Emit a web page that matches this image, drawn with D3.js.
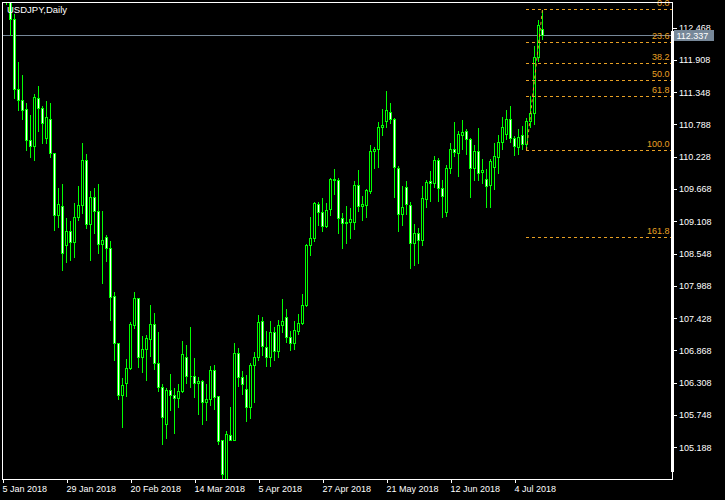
<!DOCTYPE html>
<html>
<head>
<meta charset="utf-8">
<script src="https://cdn.jsdelivr.net/npm/d3@7"></script>
<style>
  html, body { margin: 0; padding: 0; background: #000; }
  svg { display: block; }
  text { font-family: "Liberation Sans", Arial, sans-serif; }
</style>
</head>
<body>
<svg id="chart" width="725" height="500"></svg>
<script>
// ---------- data (USDJPY daily, 5 Jan 2018 .. 13 Jul 2018) ----------
const symbolTitle = "USDJPY,Daily";

const opens = [
  113.00,113.05,113.10,112.61,111.41,111.22,111.05,110.52,110.42,111.24,
  111.07,110.55,110.89,110.29,109.22,109.38,108.70,108.94,108.75,109.19,
  109.39,110.17,109.06,109.53,109.29,108.72,108.84,108.64,107.81,106.99,
  106.09,106.30,106.56,107.31,107.77,106.75,106.90,107.07,107.32,106.65,
  106.23,105.60,106.19,106.09,106.05,106.17,106.75,106.43,106.43,106.31,
  106.34,105.98,106.02,106.53,106.07,105.31,104.55,105.40,105.32,106.83,
  106.41,106.20,105.88,106.61,106.76,107.38,106.93,106.75,107.19,106.85,
  107.31,107.44,107.10,106.99,107.21,107.35,107.66,108.70,108.81,109.40,
  109.27,109.03,109.33,109.85,109.82,109.17,109.07,109.10,109.10,109.74,
  109.38,109.39,109.64,110.33,110.37,110.74,110.85,111.00,110.88,110.04,
  109.23,109.71,109.39,108.74,108.90,108.79,109.50,109.80,109.77,110.17,
  109.68,109.27,110.03,110.36,110.30,110.60,110.67,110.53,110.04,110.33,
  109.96,109.85,109.74,110.05,110.23,110.48,110.62,110.88,110.55,110.40,
  110.60,110.45,110.84,110.99,111.96,112.45
];
const highs = [
  113.30,113.38,113.15,112.72,111.88,111.67,111.18,110.97,111.34,111.47,
  111.13,111.21,111.18,110.31,109.71,109.77,109.19,109.13,109.45,109.74,
  110.48,110.29,109.65,109.70,109.77,109.30,108.89,108.78,107.90,107.02,
  106.41,106.73,107.38,107.90,107.78,107.13,107.15,107.67,107.53,107.20,
  106.30,106.24,106.47,106.23,106.31,107.05,106.98,107.29,106.75,106.42,
  106.37,106.30,106.61,106.64,106.07,105.34,105.48,105.90,107.02,106.93,
  106.53,106.46,106.67,106.86,107.50,107.46,107.22,107.39,107.30,107.42,
  107.77,107.60,107.22,107.39,107.51,107.86,108.74,109.20,109.46,109.46,
  109.53,109.45,109.88,110.04,109.88,109.27,109.39,109.36,109.82,110.01,
  109.56,109.68,110.45,110.41,110.85,111.07,111.38,111.18,110.91,110.08,
  109.74,109.82,109.46,109.07,109.01,109.74,109.84,110.00,110.26,110.22,
  109.84,110.11,110.49,110.85,110.69,110.89,110.72,110.57,110.45,110.75,
  110.20,110.03,110.20,110.48,110.63,110.93,111.06,111.12,110.60,110.72,
  110.78,110.91,111.30,112.17,112.61,112.786
];
const lows = [
  112.72,112.88,112.34,111.24,111.04,110.88,110.34,110.23,110.18,110.68,
  110.47,110.47,110.23,108.96,109.01,108.26,108.41,108.43,108.49,109.13,
  109.25,108.99,108.43,108.91,108.56,108.03,108.42,107.39,106.70,106.03,
  105.54,106.07,106.54,107.25,106.58,106.50,106.35,106.77,106.54,106.17,
  105.25,105.35,105.83,105.43,105.89,106.15,106.31,106.24,106.06,105.77,
  105.59,105.66,105.92,105.86,105.24,104.63,104.50,105.31,105.32,106.25,
  106.12,105.65,105.69,105.98,106.70,106.79,106.60,106.60,106.70,106.75,
  107.19,107.02,106.87,106.90,107.16,107.33,107.64,108.52,108.76,109.04,
  108.94,109.01,109.22,109.59,108.90,108.64,108.74,108.82,108.97,109.29,
  109.13,109.19,109.60,110.03,110.05,110.60,110.74,110.81,109.53,108.94,
  109.04,109.23,108.30,108.35,108.38,108.70,109.36,109.46,109.70,109.46,
  109.19,109.20,109.94,110.24,109.89,110.37,110.27,109.53,109.82,109.82,
  109.78,109.35,109.36,109.67,109.95,110.36,110.53,110.49,110.26,110.27,
  110.37,110.344,110.74,110.80,111.89,112.27
];
const closes = [
  113.05,113.10,112.61,111.41,111.22,111.03,110.52,110.42,111.27,111.07,
  110.81,110.91,110.29,109.22,109.40,108.55,108.94,108.75,109.19,109.39,
  110.17,109.06,109.53,109.29,108.72,108.79,108.64,107.80,106.99,106.09,
  106.27,106.57,107.32,107.77,106.75,106.89,107.09,107.32,106.65,106.23,
  105.72,106.19,106.09,106.05,106.17,106.80,106.43,106.42,106.31,106.34,
  105.98,106.02,106.53,106.06,105.30,104.73,105.41,105.32,106.83,106.41,
  106.28,105.88,106.61,106.76,107.36,106.94,106.75,107.19,106.85,107.31,
  107.38,107.10,106.99,107.23,107.35,107.65,108.70,108.81,109.42,109.27,
  109.03,109.31,109.85,109.82,109.17,109.07,109.10,109.14,109.74,109.38,
  109.40,109.65,110.33,110.37,110.74,110.77,111.03,110.88,110.05,109.23,
  109.36,109.41,108.74,108.90,108.79,109.52,109.79,109.77,110.17,109.68,
  109.55,110.03,110.36,110.31,110.62,110.65,110.53,110.04,110.33,109.94,
  109.99,109.72,110.15,110.24,110.48,110.74,110.88,110.55,110.41,110.57,
  110.45,110.84,110.99,111.96,112.51,112.337
];

// price axis
const priceTicks = [112.468,111.908,111.348,110.788,110.228,109.668,109.108,
                    108.548,107.988,107.428,106.868,106.308,105.748,105.188];
const priceMin = 104.638, priceMax = 112.912;
const currentPrice = 112.337;

// time axis (bar index of each label)
const dateLabels = ["5 Jan 2018","29 Jan 2018","20 Feb 2018","14 Mar 2018","5 Apr 2018",
                    "27 Apr 2018","21 May 2018","12 Jun 2018","4 Jul 2018"];
const dateLabelBars = [0,16,32,48,64,80,96,112,128];

// Fibonacci retracement
const fibLevels = [0.0, 23.6, 38.2, 50.0, 61.8, 100.0, 161.8];
const fibHighBar = 135, fibLowBar = 131;
const fibHigh = 112.786, fibLow = 110.344;

// ---------- drawing ----------
const W = 725, H = 500;
const plot = {left: 2, top: 2, right: 672, bottom: 479};
const GREEN = "#00FF00", FIB = "#E8A024", PLINE = "#778899";

const svg = d3.select("#chart");
svg.append("rect").attr("width", W).attr("height", H).attr("fill", "#000");

const nBars = opens.length;
const x = d3.scaleLinear().domain([0, nBars - 1]).range([2, 2 + 4 * (nBars - 1)]);
const y = d3.scaleLinear().domain([priceMin, priceMax]).range([plot.bottom, plot.top]);
const py = v => Math.round(y(v)) + 0.5;

svg.append("clipPath").attr("id", "plotclip")
  .append("rect").attr("x", plot.left).attr("y", plot.top)
  .attr("width", plot.right - plot.left).attr("height", plot.bottom - plot.top);

const g = svg.append("g").attr("clip-path", "url(#plotclip)")
  .attr("shape-rendering", "crispEdges");

// current price line
g.append("line")
  .attr("x1", plot.left).attr("x2", plot.right)
  .attr("y1", py(currentPrice)).attr("y2", py(currentPrice))
  .attr("stroke", PLINE).attr("stroke-width", 1);

const bars = d3.range(nBars);
// wicks
g.selectAll("line.wick").data(bars).join("line").attr("class", "wick")
  .attr("x1", i => x(i) + 0.5).attr("x2", i => x(i) + 0.5)
  .attr("y1", i => py(highs[i])).attr("y2", i => py(lows[i]))
  .attr("stroke", GREEN).attr("stroke-width", 1);
// bodies
g.selectAll("path.body").data(bars).join("path").attr("class", "body")
  .attr("d", i => {
    const t = py(Math.max(opens[i], closes[i]));
    const b = py(Math.min(opens[i], closes[i]));
    const x0 = x(i) - 0.5, x1 = x(i) + 1.5;
    return `M${x0},${t}H${x1}V${b}H${x0}Z`;
  })
  .attr("fill", i => closes[i] < opens[i] ? "#FFFFFF" : "#000000")
  .attr("stroke", GREEN).attr("stroke-width", 1);

// Fibonacci
const fg = svg.append("g").attr("clip-path", "url(#plotclip)");
fg.append("line")
  .attr("x1", x(fibLowBar) + 0.5).attr("y1", y(fibLow))
  .attr("x2", x(fibHighBar) + 0.5).attr("y2", y(fibHigh))
  .attr("stroke", FIB).attr("stroke-width", 1).attr("stroke-dasharray", "3,3");
const fibPrice = l => fibHigh - (fibHigh - fibLow) * l / 100;
fg.selectAll("line.fib").data(fibLevels).join("line").attr("class", "fib")
  .attr("x1", x(fibLowBar)).attr("x2", plot.right)
  .attr("y1", l => py(fibPrice(l))).attr("y2", l => py(fibPrice(l)))
  .attr("stroke", FIB).attr("stroke-width", 1).attr("stroke-dasharray", "3,3")
  .attr("shape-rendering", "crispEdges");
svg.selectAll("text.fib").data(fibLevels).join("text").attr("class", "fib")
  .attr("x", 669.5).attr("y", l => py(fibPrice(l)) - 4)
  .attr("text-anchor", "end").attr("font-size", 9).attr("fill", FIB)
  .text(l => l.toFixed(1));

// frame
svg.append("rect")
  .attr("x", plot.left + 0.5).attr("y", plot.top + 0.5)
  .attr("width", plot.right - plot.left).attr("height", plot.bottom - plot.top)
  .attr("fill", "none").attr("stroke", "#FFFFFF").attr("stroke-width", 1)
  .attr("shape-rendering", "crispEdges");
svg.append("rect")
  .attr("x", plot.right - 1).attr("y", 31).attr("width", 3).attr("height", 441)
  .attr("fill", "#FFFFFF").attr("shape-rendering", "crispEdges");

// right price axis
const yAxis = d3.axisRight(y).tickValues(priceTicks).tickSize(4).tickPadding(2)
  .tickFormat(d3.format(".3f"));
const ya = svg.append("g").attr("transform", `translate(${plot.right + 1},0)`).call(yAxis);
ya.select(".domain").remove();
ya.selectAll("line").attr("stroke", "#FFFFFF").attr("shape-rendering", "crispEdges");
ya.selectAll("text").attr("fill", "#FFFFFF").attr("font-size", 9)
  .attr("font-family", "Liberation Sans, Arial, sans-serif");

// current price label
const cpY = py(currentPrice);
svg.append("rect").attr("x", 674).attr("y", cpY - 5.5).attr("width", 40).attr("height", 11)
  .attr("fill", PLINE).attr("shape-rendering", "crispEdges");
svg.append("text").attr("x", 676.5).attr("y", cpY + 3.5)
  .attr("font-size", 9).attr("fill", "#FFFFFF").text(currentPrice.toFixed(3));

// bottom time axis
const xAxis = d3.axisBottom(x).tickValues(dateLabelBars).tickSize(4).tickPadding(2)
  .tickFormat((d, i) => dateLabels[i]);
const xa = svg.append("g").attr("transform", `translate(0.5,${plot.bottom})`).call(xAxis);
xa.select(".domain").remove();
xa.selectAll("line").attr("stroke", "#FFFFFF").attr("shape-rendering", "crispEdges");
xa.selectAll("text").attr("fill", "#FFFFFF").attr("font-size", 9)
  .attr("font-family", "Liberation Sans, Arial, sans-serif")
  .attr("text-anchor", "start").attr("x", -0.5).attr("dy", null).attr("y", 13);

// title
svg.append("text").attr("x", 7).attr("y", 12.5).attr("font-size", 9.5)
  .attr("fill", "#FFFFFF").text(symbolTitle);
</script>
</body>
</html>
